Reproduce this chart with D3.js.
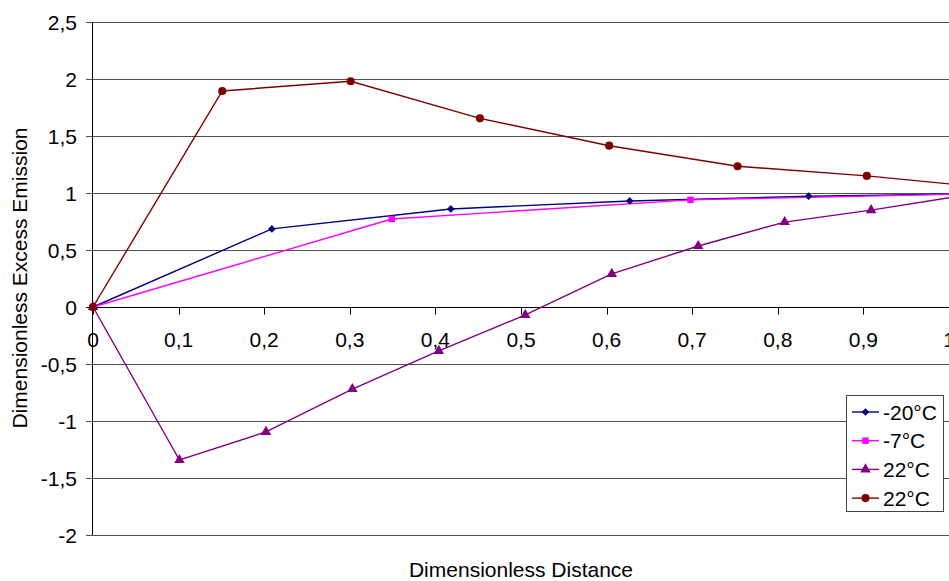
<!DOCTYPE html>
<html><head><meta charset="utf-8">
<script src="https://cdn.jsdelivr.net/npm/d3@7"></script>
<style>body{margin:0;background:#fff;}svg{display:block;font-family:"Liberation Sans",Arial,sans-serif;}</style>
</head><body><svg id="c" width="949" height="581"></svg>
<script>
const xTicks = [0,0.1,0.2,0.3,0.4,0.5,0.6,0.7,0.8,0.9,1];
const yTicks = [-2,-1.5,-1,-0.5,0,0.5,1,1.5,2,2.5];
const seriesNames = ["-20°C","-7°C","22°C","22°C"];
const s1x = [0,0.209,0.418,0.627,0.836,1.045];
const s1y = [0,0.685,0.86,0.93,0.972,0.995];
const s2x = [0,0.349,0.698,1.047];
const s2y = [0,0.772,0.94,0.995];
const s3x = [0,0.101,0.202,0.303,0.404,0.505,0.606,0.707,0.808,0.909,1.01];
const s3y = [0,-1.342,-1.096,-0.72,-0.385,-0.07,0.29,0.535,0.745,0.85,0.97];
const s4x = [0,0.151,0.301,0.452,0.603,0.753,0.904,1.055];
const s4y = [0,1.895,1.98,1.655,1.415,1.235,1.15,1.04];
const colors = ["#000080","#FF00FF","#800080","#800000"];
const symbols = [d3.symbolSquare, d3.symbolSquare, d3.symbolTriangle, d3.symbolCircle];
const symRot = [45, 0, 0, 0];
const symSizes = [30, 42, 48, 52];

const svg = d3.select("#c");
const x = d3.scaleLinear().domain([0,1]).range([93,949]);
const y = d3.scaleLinear().domain([-2,2.5]).range([535,22]);
const fmt = v => String(v).replace(".", ",");

svg.append("g").selectAll("line").data(yTicks).join("line")
  .attr("x1",86).attr("x2",949)
  .attr("y1",d=>Math.round(y(d))+0.5).attr("y2",d=>Math.round(y(d))+0.5)
  .attr("stroke",d=>d===0?"#000":"#505050").attr("stroke-width",1);

svg.append("line").attr("x1",92.5).attr("x2",92.5).attr("y1",22).attr("y2",535).attr("stroke","#000");

svg.append("g").selectAll("text").data(yTicks).join("text")
  .attr("x",77).attr("y",d=>y(d)+7.5).attr("text-anchor","end")
  .attr("font-size",21).attr("fill","#000").text(fmt);

const y0 = Math.round(y(0))+0.5;
svg.append("g").selectAll("line").data(xTicks).join("line")
  .attr("x1",d=>Math.round(x(d))+0.5).attr("x2",d=>Math.round(x(d))+0.5)
  .attr("y1",y0).attr("y2",y0+7).attr("stroke","#000");
svg.append("g").selectAll("text").data(xTicks).join("text")
  .attr("x",d=>x(d)).attr("y",347).attr("text-anchor","middle")
  .attr("font-size",21).attr("fill","#000").text(fmt);

const series = [[s1x,s1y],[s2x,s2y],[s3x,s3y],[s4x,s4y]];
const line = d3.line().x(d=>x(d[0])).y(d=>y(d[1]));
series.forEach((s,i)=>{
  const pts = s[0].map((v,j)=>[v,s[1][j]]);
  svg.append("path").datum(pts).attr("d",line).attr("fill","none")
    .attr("stroke",colors[i]).attr("stroke-width",1.4);
});
series.forEach((s,i)=>{
  const pts = s[0].map((v,j)=>[v,s[1][j]]);
  svg.append("g").selectAll("path").data(pts).join("path")
    .attr("transform",d=>`translate(${x(d[0])},${y(d[1])}) rotate(${symRot[i]})`)
    .attr("d",d3.symbol().type(symbols[i]).size(symSizes[i]))
    .attr("fill",colors[i]);
});

const lg = svg.append("g");
lg.append("rect").attr("x",846.5).attr("y",395.5).attr("width",97).attr("height",116)
  .attr("fill","#fff").attr("stroke","#444");
seriesNames.forEach((n,i)=>{
  const ly = 412 + i*28.7;
  lg.append("line").attr("x1",852).attr("x2",879).attr("y1",ly).attr("y2",ly)
    .attr("stroke",colors[i]).attr("stroke-width",1.4);
  lg.append("path").attr("transform",`translate(865.5,${ly}) rotate(${symRot[i]})`)
    .attr("d",d3.symbol().type(symbols[i]).size(symSizes[i])).attr("fill",colors[i]);
  lg.append("text").attr("x",883).attr("y",ly+7.5).attr("font-size",21).attr("fill","#000").text(n);
});

svg.append("text").attr("x",521).attr("y",577).attr("text-anchor","middle")
  .attr("font-size",21).attr("fill","#000").text("Dimensionless Distance");
svg.append("text").attr("transform","translate(27,278) rotate(-90)").attr("text-anchor","middle")
  .attr("font-size",21).attr("fill","#000").text("Dimensionless Excess Emission");
</script></body></html>
